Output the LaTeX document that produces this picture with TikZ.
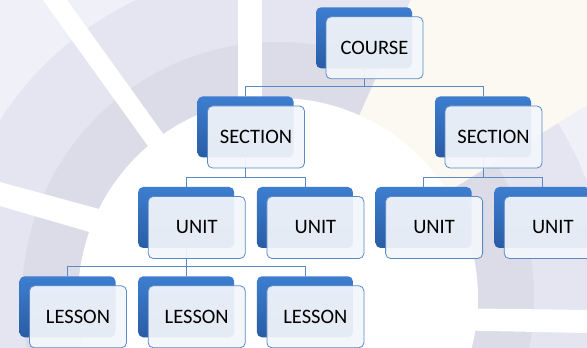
\documentclass[tikz,border=0pt]{standalone}
\usepackage{fontspec}
\setmainfont{Carlito}
\usetikzlibrary{calc}
\definecolor{ringlight}{HTML}{F0F1F8}
\definecolor{ringmid}{HTML}{E4E5F1}
\definecolor{ringdark}{HTML}{DBDCE7}
\definecolor{warm}{HTML}{FBF9F2}
\definecolor{cardtop}{HTML}{3D7ED0}
\definecolor{cardbot}{HTML}{2A5CA5}
\definecolor{cardfill}{HTML}{F3F6FB}
\definecolor{cardline}{HTML}{5B8AC6}
\tikzset{backcard/.style={rectangle, rounded corners=5pt, minimum width=96pt,
    minimum height=61pt, inner sep=0pt, top color=cardtop, bottom color=cardbot}}
\tikzset{textcard/.style={rectangle, rounded corners=5pt, minimum width=97pt,
    minimum height=62pt, inner sep=0pt, fill=cardfill, fill opacity=.93,
    text opacity=1, draw=cardline, line width=.8pt,
    font=\fontsize{20.5}{24}\selectfont, xshift=10.5pt, yshift=-10pt}}
\tikzset{link/.style={draw=cardline, line width=.8pt}}

\begin{document}
\begin{tikzpicture}[x=1pt, y=1pt]
  \useasboundingbox (0,0) rectangle (587,348);
  \clip (0,0) rectangle (587,348);
  %%%%% backdrop rings
  \coordinate (hub) at (278,50);
  \fill[ringlight] (0,0) rectangle (587,348);
  \fill[ringmid] (hub) circle[radius=330pt];
  \fill[ringdark] (hub) circle[radius=256pt];
  \fill[warm] (hub) -- ++(32:440pt) arc[start angle=32, end angle=66,
    radius=440pt] -- cycle;
  %% white spokes
  \fill[white] (238,348) -- (262,348) -- (262,220) -- (238,220) -- cycle;
  \fill[white] (43,348) -- (67,348) -- (182,188) -- (158,188) -- cycle;
  \fill[white] (0,166) -- (0,142) -- (110,110) -- (110,136) -- cycle;
  \fill[white] (440,40) -- (587,38) -- (587,15) -- (440,18) -- cycle;
  \fill[white] (hub) circle[radius=200pt];
  %%%%% back cards
  \node[backcard] (course) at (364,310.2) {};
  \node[backcard] (sec1) at (245.5,221) {};
  \node[backcard] (sec2) at (483,221) {};
  \node[backcard] (unit1) at (186.2,130.5) {};
  \node[backcard] (unit2) at (304.9,130.5) {};
  \node[backcard] (unit3) at (423.6,130.5) {};
  \node[backcard] (unit4) at (542.3,130.5) {};
  \node[backcard] (les1) at (67.5,41.2) {};
  \node[backcard] (les2) at (186.2,41.2) {};
  \node[backcard] (les3) at (304.9,41.2) {};
  %%%%% links
  \draw[link] (course.south) |- ($(sec1.north)+(0,10)$) -- (sec1.north);
  \draw[link] (course.south) |- ($(sec2.north)+(0,10)$) -- (sec2.north);
  \draw[link] (sec1.south) |- ($(unit1.north)+(0,9.5)$) -- (unit1.north);
  \draw[link] (sec1.south) |- ($(unit2.north)+(0,9.5)$) -- (unit2.north);
  \draw[link] (sec2.south) |- ($(unit3.north)+(0,9.5)$) -- (unit3.north);
  \draw[link] (sec2.south) |- ($(unit4.north)+(0,9.5)$) -- (unit4.north);
  \draw[link] (unit1.south) |- ($(les1.north)+(0,9.5)$) -- (les1.north);
  \draw[link] (unit1.south) |- ($(les2.north)+(0,9.5)$) -- (les2.north);
  \draw[link] (unit1.south) |- ($(les3.north)+(0,9.5)$) -- (les3.north);
  %%%%% text cards
  \node[textcard] (course-t) at (course) {COURSE};
  \node[textcard] (sec1-t) at (sec1) {SECTION};
  \node[textcard] (sec2-t) at (sec2) {SECTION};
  \node[textcard] (unit1-t) at (unit1) {UNIT};
  \node[textcard] (unit2-t) at (unit2) {UNIT};
  \node[textcard] (unit3-t) at (unit3) {UNIT};
  \node[textcard] (unit4-t) at (unit4) {UNIT};
  \node[textcard] (les1-t) at (les1) {LESSON};
  \node[textcard] (les2-t) at (les2) {LESSON};
  \node[textcard] (les3-t) at (les3) {LESSON};
\end{tikzpicture}
\end{document}
